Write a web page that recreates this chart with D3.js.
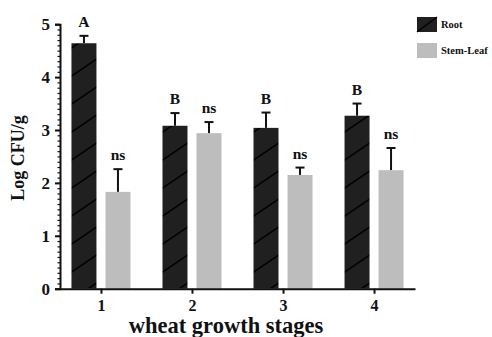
<!DOCTYPE html>
<html>
<head>
<meta charset="utf-8">
<script src="https://cdn.jsdelivr.net/npm/d3@7"></script>
<style>
  html, body { margin: 0; padding: 0; background: #fff; }
  svg { display: block; }
  text { font-family: "Liberation Serif", "Times New Roman", serif; font-weight: bold; fill: #111; }
</style>
</head>
<body>
<svg id="chart" width="492" height="337"></svg>
<script>
// Bacterial counts (Log CFU/g) by wheat growth stage
const stages = ["1", "2", "3", "4"];
const seriesNames = ["Root", "Stem-Leaf"];
const rootValues = [4.64, 3.08, 3.04, 3.27];
const rootErrors = [0.14, 0.24, 0.29, 0.23];
const stemLeafValues = [1.83, 2.94, 2.15, 2.24];
const stemLeafErrors = [0.43, 0.21, 0.14, 0.42];
const rootLetters = ["A", "B", "B", "B"];
const stemLeafLetters = ["ns", "ns", "ns", "ns"];
const yTicks = [0, 1, 2, 3, 4, 5];

const svg = d3.select("#chart");

const x = d3.scalePoint().domain(stages).range([60, 415]).padding(0.45);
const xSeries = d3.scaleBand().domain(seriesNames).range([-29.5, 29.5]).paddingInner(0.265);
const y = d3.scaleLinear().domain([0, 5]).range([288.7, 24.2]);

const darkFill = "#202020";
const greyFill = "#bdbdbd";

// diagonal hatch for the Root bars
const defs = svg.append("defs");
const hatch = defs.append("pattern")
  .attr("id", "hatch")
  .attr("patternUnits", "userSpaceOnUse")
  .attr("width", 41).attr("height", 28);
hatch.append("rect").attr("width", 41).attr("height", 28).attr("fill", darkFill);
hatch.append("path")
  .attr("d", "M-4,30.7 L45,-2.7 M-45,30.7 L4,-2.7 M37,30.7 L86,-2.7")
  .attr("stroke", "#000").attr("stroke-width", 1.5).attr("fill", "none");

const rows = stages.map((s, i) => ({
  stage: s,
  bars: [
    { series: "Root", value: rootValues[i], err: rootErrors[i], label: rootLetters[i] },
    { series: "Stem-Leaf", value: stemLeafValues[i], err: stemLeafErrors[i], label: stemLeafLetters[i] }
  ]
}));

const groups = svg.append("g").selectAll("g")
  .data(rows).join("g")
  .attr("transform", d => `translate(${x(d.stage)},0)`);

// error bars (upper whisker only)
groups.selectAll("g.err")
  .data(d => d.bars).join("g")
  .attr("class", "err")
  .each(function(b) {
    const cx = xSeries(b.series) + xSeries.bandwidth() / 2;
    const g = d3.select(this);
    g.append("line")
      .attr("x1", cx).attr("x2", cx)
      .attr("y1", y(b.value)).attr("y2", y(b.value + b.err))
      .attr("stroke", "#111").attr("stroke-width", 2);
    g.append("line")
      .attr("x1", cx - 4.5).attr("x2", cx + 4.5)
      .attr("y1", y(b.value + b.err)).attr("y2", y(b.value + b.err))
      .attr("stroke", "#111").attr("stroke-width", 2);
  });

groups.selectAll("rect.bar")
  .data(d => d.bars).join("rect")
  .attr("class", "bar")
  .attr("x", b => xSeries(b.series))
  .attr("width", xSeries.bandwidth())
  .attr("y", b => y(b.value))
  .attr("height", b => y(0) - y(b.value))
  .attr("fill", b => b.series === "Root" ? "url(#hatch)" : greyFill);

groups.selectAll("text.sig")
  .data(d => d.bars).join("text")
  .attr("class", "sig")
  .attr("x", b => xSeries(b.series) + xSeries.bandwidth() / 2)
  .attr("y", b => y(b.value + b.err) - 9)
  .attr("text-anchor", "middle")
  .attr("font-size", 15.5)
  .text(b => b.label);

// y axis with minor ticks
const yAxis = svg.append("g").attr("transform", "translate(60,0)");
yAxis.append("g")
  .call(d3.axisLeft(y).tickValues(d3.range(0, 50).map(v => v / 10)).tickSize(2.5).tickFormat(""))
  .call(g => g.select(".domain").remove())
  .call(g => g.selectAll("line").attr("stroke", "#111").attr("stroke-width", 1.2));
yAxis.append("g")
  .call(d3.axisLeft(y).tickValues(yTicks).tickSize(5).tickPadding(5).tickFormat(d3.format("d")))
  .call(g => g.select(".domain").attr("stroke", "#111").attr("stroke-width", 2))
  .call(g => g.selectAll("line").attr("stroke", "#111").attr("stroke-width", 2))
  .call(g => g.selectAll("text").attr("font-size", 17).attr("font-family", null).attr("fill", "#111"));

// x axis
const xAxis = svg.append("g").attr("transform", `translate(0,${y(0)})`);
xAxis.call(d3.axisBottom(x).tickSize(5).tickPadding(6).tickSizeOuter(0))
  .call(g => g.select(".domain").attr("stroke", "#111").attr("stroke-width", 2))
  .call(g => g.selectAll("line").attr("stroke", "#111").attr("stroke-width", 2))
  .call(g => g.selectAll("text").attr("font-size", 16).attr("font-family", null).attr("fill", "#111"));

// axis titles
svg.append("text")
  .attr("transform", "translate(24,158) rotate(-90)")
  .attr("text-anchor", "middle")
  .attr("font-size", 18)
  .text("Log CFU/g");
svg.append("text")
  .attr("x", 226).attr("y", 333)
  .attr("text-anchor", "middle")
  .attr("font-size", 22.5)
  .text("wheat growth stages");

// legend
const legend = svg.append("g").attr("transform", "translate(417,17)");
const legendItems = legend.selectAll("g").data(seriesNames).join("g")
  .attr("transform", (d, i) => `translate(0,${i * 26})`);
legendItems.append("rect")
  .attr("width", 20).attr("height", 15)
  .attr("fill", d => d === "Root" ? darkFill : greyFill);
legendItems.filter(d => d === "Root").append("line")
  .attr("x1", 0).attr("y1", 15).attr("x2", 20).attr("y2", 0)
  .attr("stroke", "#000").attr("stroke-width", 1.4);
legendItems.append("text")
  .attr("x", 24).attr("y", 11)
  .attr("font-size", 10.5)
  .text(d => d);
</script>
</body>
</html>
